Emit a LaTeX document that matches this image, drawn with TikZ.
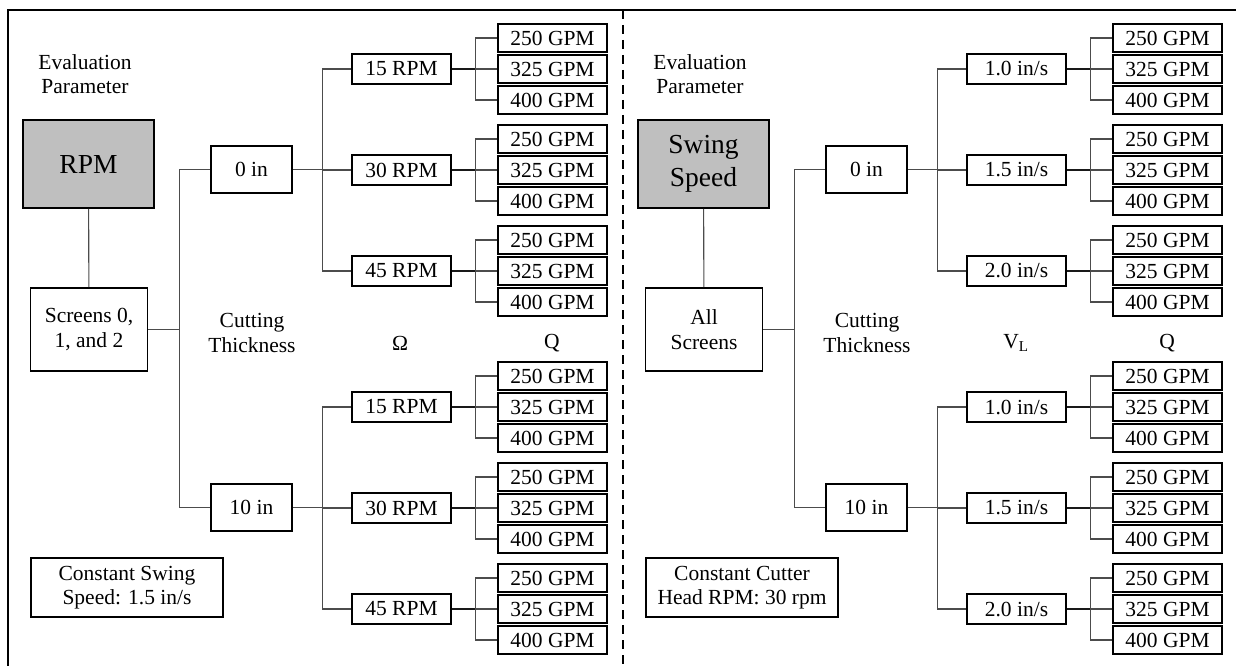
\documentclass[tikz,border=0pt]{standalone}
\usepackage{fontspec}
\setmainfont{Liberation Serif}

\tikzset{
  txt/.style={font=\fontsize{21.5}{24.5}\selectfont, align=center, inner sep=0pt},
  box/.style={txt, draw=black, line width=1.7pt},
  parambox/.style={box, fill=black!25, minimum width=131pt, minimum height=88pt, font=\fontsize{27.5}{33}\selectfont},
  rootbox/.style={box, minimum width=117pt, minimum height=83pt},
  thickbox/.style={box, minimum width=81pt, minimum height=47pt},
  levelbox/.style={box, minimum width=99pt, minimum height=30pt},
  gpmbox/.style={box, minimum width=109pt, minimum height=28.5pt},
  notebox/.style={box, minimum width=192pt, minimum height=59pt},
  conn/.style={draw=black!70, line width=1.1pt},
}

% one level box with its three flow rates
\newcommand\ratebranch[4]{%
  \node[levelbox] (#1) at (#2,#3) {#4};
  \coordinate (#1j) at ([xshift=24pt]#1.east);
  \draw[conn, draw=black!90] (#1.east) -- (#1j);
  \foreach \g/\dy in {250/-31,325/0,400/31}{
    \node[gpmbox] (#1g\g) at (#2+151,#3+\dy) {\g\ GPM};
    \draw[conn] (#1j) |- (#1g\g.west);
  }
}

\begin{document}
\begin{tikzpicture}[x=1pt, y=-1pt]
  \useasboundingbox (0,0) rectangle (1236,666);
  % frame
  \draw[line width=1.8pt] (8,666) -- (8,10) -- (1236,10);
  \draw[line width=2.4pt, dash pattern=on 9pt off 6pt] (623,10) -- (623,666);

  % left half
  \node[txt] (Leval) at (85,74) {Evaluation\\Parameter};
  \node[parambox] (Lpar) at (88.5,164) {RPM};
  \node[rootbox] (Lroot) at (89,329.5) {Screens 0,\\1, and 2};
  \draw[conn] (Lpar) -- (Lroot);
  \node[thickbox] (Lt0) at (251.5,169.5) {0 in};
  \node[thickbox] (Lt10) at (251.5,507.5) {10 in};
  \coordinate (Lrj) at ([xshift=31pt]Lroot.east);
  \draw[conn] (Lroot.east) -- (Lrj);
  \draw[conn] (Lrj) |- (Lt0);
  \draw[conn] (Lrj) |- (Lt10);

  \ratebranch{La}{401.5}{69}{15 RPM}
  \ratebranch{Lb}{401.5}{170}{30 RPM}
  \ratebranch{Lc}{401.5}{271}{45 RPM}
  \ratebranch{Ld}{401.5}{407}{15 RPM}
  \ratebranch{Le}{401.5}{508}{30 RPM}
  \ratebranch{Lf}{401.5}{609}{45 RPM}
  \coordinate (Ltj0) at ([xshift=30pt]Lt0.east);
  \coordinate (Ltj10) at ([xshift=30pt]Lt10.east);
  \draw[conn] (Lt0.east) -- (Ltj0);
  \draw[conn] (Lt10.east) -- (Ltj10);
  \foreach \n in {La,Lb,Lc} \draw[conn] (Ltj0) |- (\n);
  \foreach \n in {Ld,Le,Lf} \draw[conn] (Ltj10) |- (\n);

  \node[txt] (Lcut) at (252,333) {Cutting\\Thickness};
  \node[txt] (Lsym) at (400,343) {Ω};
  \node[txt] (Lq) at (552,343) {Q};
  \node[notebox] (Lnote) at (127,587.5) {Constant Swing\\Speed: 1.5 in/s};

  % right half
  \node[txt] (Reval) at (700,74) {Evaluation\\Parameter};
  \node[parambox] (Rpar) at (703.5,164) {Swing\\Speed};
  \node[rootbox] (Rroot) at (704,329.5) {All\\Screens};
  \draw[conn] (Rpar) -- (Rroot);
  \node[thickbox] (Rt0) at (866.5,169.5) {0 in};
  \node[thickbox] (Rt10) at (866.5,507.5) {10 in};
  \coordinate (Rrj) at ([xshift=31pt]Rroot.east);
  \draw[conn] (Rroot.east) -- (Rrj);
  \draw[conn] (Rrj) |- (Rt0);
  \draw[conn] (Rrj) |- (Rt10);

  \ratebranch{Ra}{1016.5}{69}{1.0 in/s}
  \ratebranch{Rb}{1016.5}{170}{1.5 in/s}
  \ratebranch{Rc}{1016.5}{271}{2.0 in/s}
  \ratebranch{Rd}{1016.5}{407}{1.0 in/s}
  \ratebranch{Re}{1016.5}{508}{1.5 in/s}
  \ratebranch{Rf}{1016.5}{609}{2.0 in/s}
  \coordinate (Rtj0) at ([xshift=30pt]Rt0.east);
  \coordinate (Rtj10) at ([xshift=30pt]Rt10.east);
  \draw[conn] (Rt0.east) -- (Rtj0);
  \draw[conn] (Rt10.east) -- (Rtj10);
  \foreach \n in {Ra,Rb,Rc} \draw[conn] (Rtj0) |- (\n);
  \foreach \n in {Rd,Re,Rf} \draw[conn] (Rtj10) |- (\n);

  \node[txt] (Rcut) at (867,333) {Cutting\\Thickness};
  \node[txt] (Rsym) at (1016,343) {V\textsubscript{L}};
  \node[txt] (Rq) at (1167,343) {Q};
  \node[notebox] (Rnote) at (742,587.5) {Constant Cutter\\Head RPM: 30 rpm};
\end{tikzpicture}
\end{document}
